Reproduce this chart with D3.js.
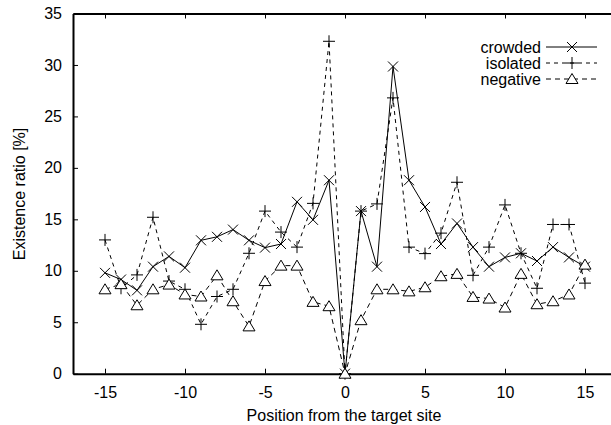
<!DOCTYPE html>
<meta charset="utf-8">
<head>
<title>Existence ratio</title>
<style>
body { margin: 0; background: #fff; }
svg text { font-family: "Liberation Sans", Arial, Helvetica, sans-serif; font-size: 16px; fill: #000; }
.axis path, .axis line { stroke: #000; }
.axis line { stroke-width: 1; }
</style>
</head>
<body>
<div id="chart"></div>
<script src="https://cdn.jsdelivr.net/npm/d3@7"></script>
<script>
var positions = d3.range(-15, 16);

var crowded = [9.8, 9.15, 8.1, 10.4, 11.4, 10.3, 12.96, 13.3, 14.0, 12.96, 12.25, 12.6, 16.7, 14.95, 18.8,
	0, 15.8, 10.4, 29.85, 18.8, 16.2, 12.6, 14.6, 12.3, 10.4, 11.3, 11.7, 10.95, 12.3, 11.3, 10.4];

var isolated = [13.0, 8.3, 9.6, 15.2, 9.0, 8.2, 4.8, 7.5, 8.2, 11.7, 15.8, 13.76, 12.3, 16.55, 32.3,
	0, 15.8, 16.5, 26.8, 12.3, 11.67, 13.66, 18.6, 9.56, 12.3, 16.4, 11.7, 8.3, 14.5, 14.5, 8.8];

var negative = [8.2, 8.7, 6.65, 8.2, 8.66, 7.7, 7.5, 9.56, 7.04, 4.6, 9.0, 10.5, 10.5, 6.98, 6.56,
	0, 5.2, 8.2, 8.2, 8.0, 8.4, 9.47, 9.7, 7.46, 7.3, 6.43, 9.7, 6.75, 7.04, 7.7, 10.6];

var xTicks = [-15, -10, -5, 0, 5, 10, 15],
	yTicks = [0, 5, 10, 15, 20, 25, 30, 35];

var width = 611,
	height = 425;

// plot box (right edge falls just outside the picture, as in the original)
var mLeft = 73, mRight = 617, mTop = 13.5, mBottom = 373.7;

var x = d3.scaleLinear().domain([-17, 17]).range([mLeft, mRight]);
var y = d3.scaleLinear().domain([0, 35]).range([mBottom, mTop]);

var fmt = function(d) { return String(d); };

var svg = d3.select("#chart").append("svg")
	.attr("width", width)
	.attr("height", height);

// axes, ticks point inward like gnuplot
svg.append("g").attr("class", "axis")
	.attr("transform", "translate(0," + mBottom + ")")
	.call(d3.axisBottom(x).tickValues(xTicks).tickFormat(fmt).tickSize(-5).tickPadding(13).tickSizeOuter(0));

svg.append("g").attr("class", "axis")
	.attr("transform", "translate(0," + mTop + ")")
	.call(d3.axisTop(x).tickValues(xTicks).tickSize(-5).tickFormat("").tickSizeOuter(0));

svg.append("g").attr("class", "axis")
	.attr("transform", "translate(" + mLeft + ",0)")
	.call(d3.axisLeft(y).tickValues(yTicks).tickFormat(fmt).tickSize(-5).tickPadding(11).tickSizeOuter(0));

svg.append("g").attr("class", "axis")
	.attr("transform", "translate(" + mRight + ",0)")
	.call(d3.axisRight(y).tickValues(yTicks).tickSize(-5).tickFormat("").tickSizeOuter(0));

svg.selectAll(".axis text").attr("font-size", null).attr("font-family", null);
svg.selectAll(".axis .domain").attr("stroke-width", 2);

// labels
svg.append("text")
	.attr("x", 344)
	.attr("y", 421)
	.attr("text-anchor", "middle")
	.text("Position from the target site");

svg.append("text")
	.attr("transform", "translate(25,194)rotate(-90)")
	.attr("text-anchor", "middle")
	.text("Existence ratio [%]");

var series = [
	{ name: "crowded", values: crowded, dash: null, mark: "x" },
	{ name: "isolated", values: isolated, dash: "4,4", mark: "plus" },
	{ name: "negative", values: negative, dash: "5,4", mark: "tri" }
];

function marker(g, type, cx, cy) {
	var s = 5;
	if (type == "x") {
		g.append("path").attr("d", "M" + (cx - s) + "," + (cy - s) + "L" + (cx + s) + "," + (cy + s) +
			"M" + (cx - s) + "," + (cy + s) + "L" + (cx + s) + "," + (cy - s));
	} else if (type == "plus") {
		g.append("path").attr("d", "M" + (cx - 6) + "," + cy + "L" + (cx + 6) + "," + cy +
			"M" + cx + "," + (cy - 6) + "L" + cx + "," + (cy + 6));
	} else {
		g.append("path").attr("d", "M" + cx + "," + (cy - 5.5) + "L" + (cx + 6) + "," + (cy + 4.5) +
			"L" + (cx - 6) + "," + (cy + 4.5) + "Z").attr("fill", "#fff");
	}
}

var line = d3.line()
	.x(function(d, i) { return x(positions[i]); })
	.y(function(d) { return y(d); });

series.forEach(function(s) {
	svg.append("path")
		.attr("d", line(s.values))
		.attr("fill", "none")
		.attr("stroke", "#000")
		.attr("stroke-width", 1)
		.attr("stroke-dasharray", s.dash);
});

series.forEach(function(s) {
	var g = svg.append("g").attr("stroke", "#000").attr("stroke-width", 1).attr("fill", "none");
	s.values.forEach(function(v, i) {
		marker(g, s.mark, x(positions[i]), y(v));
	});
});

// legend
var legend = svg.append("g");
series.forEach(function(s, i) {
	var ly = 47 + i * 16;
	legend.append("text")
		.attr("x", 541)
		.attr("y", ly + 5.5)
		.attr("text-anchor", "end")
		.text(s.name);
	legend.append("line")
		.attr("x1", 546).attr("x2", 597)
		.attr("y1", ly).attr("y2", ly)
		.attr("stroke", "#000")
		.attr("stroke-dasharray", s.dash);
	var g = legend.append("g").attr("stroke", "#000").attr("stroke-width", 1).attr("fill", "none");
	marker(g, s.mark, 572, ly);
});
</script>
</body>
